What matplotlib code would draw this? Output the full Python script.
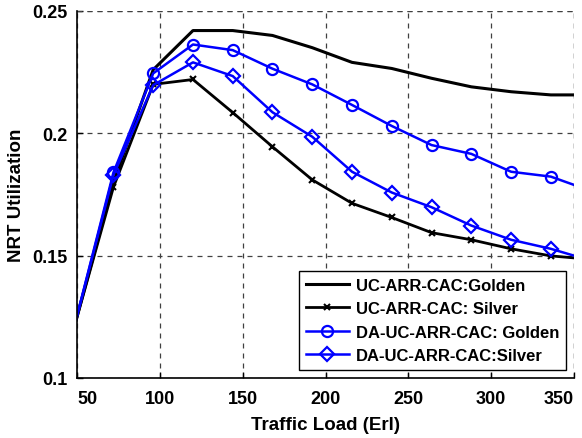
import matplotlib
matplotlib.use('Agg')
import matplotlib.pyplot as plt

plt.rcParams['font.family'] = ['Liberation Sans', 'DejaVu Sans']
plt.rcParams['font.weight'] = 'bold'

# data
load = [48, 72, 96, 120, 144, 168, 192, 216, 240, 264, 288, 312, 336, 360]
uc_golden = [0.120, 0.180, 0.226, 0.242, 0.242, 0.240, 0.235, 0.229, 0.2265, 0.2225,
             0.219, 0.217, 0.2157, 0.2157]
uc_silver = [0.120, 0.178, 0.220, 0.222, 0.2085, 0.1945, 0.181, 0.1714, 0.1656, 0.1594,
             0.1565, 0.1528, 0.1499, 0.1485]
da_golden = [0.120, 0.184, 0.2245, 0.2363, 0.234, 0.2264, 0.220, 0.2116, 0.203, 0.1952,
             0.1916, 0.1843, 0.1823, 0.1765]
da_silver = [0.120, 0.183, 0.2197, 0.229, 0.2234, 0.2086, 0.1986, 0.1843, 0.1758, 0.1698,
             0.1623, 0.1565, 0.1528, 0.148]

x_ticks = [50, 100, 150, 200, 250, 300, 350]
y_ticks = [0.1, 0.15, 0.2, 0.25]
y_tick_labels = ['0.1', '0.15', '0.2', '0.25']

fig = plt.figure(figsize=(5.82, 4.39), dpi=100)
ax = fig.add_axes([0.1323, 0.1367, 0.854, 0.836])

mk = slice(1, 13)  # first/last points fall outside the axis
ax.plot(load, uc_golden, color='black', linewidth=2.2, label='UC-ARR-CAC:Golden')
ax.plot(load, uc_silver, color='black', linewidth=2.0, marker='x', markersize=4,
        markeredgewidth=1.5, markevery=mk, label='UC-ARR-CAC: Silver')
ax.plot(load, da_golden, color='#0000ff', linewidth=1.8, marker='o', markersize=8,
        markerfacecolor='none', markeredgewidth=1.6, markevery=mk,
        label='DA-UC-ARR-CAC: Golden')
ax.plot(load, da_silver, color='#0000ff', linewidth=1.8, marker='D', markersize=7,
        markerfacecolor='none', markeredgewidth=1.6, markevery=mk,
        label='DA-UC-ARR-CAC:Silver')

ax.set_xlim(50, 350)
ax.set_ylim(0.1, 0.25)
ax.set_xticks(x_ticks)
ax.set_yticks(y_ticks)
ax.set_yticklabels(y_tick_labels)
ax.tick_params(direction='in', labelsize=13, length=4, width=1)
ax.tick_params(axis='x', pad=9)
ax.tick_params(axis='y', pad=7)
xlabels = ax.get_xticklabels()
for lab in xlabels + ax.get_yticklabels():
    lab.set_fontweight('bold')
# end labels kept inside the figure, as in the original
xlabels[0].set_horizontalalignment('left')
xlabels[-1].set_horizontalalignment('right')

ax.spines['top'].set_visible(False)
ax.spines['right'].set_visible(False)
ax.spines['left'].set_linewidth(1.2)
ax.spines['bottom'].set_linewidth(1.2)

ax.grid(True, color='0.25', linestyle=(0, (4, 4)), linewidth=0.9)
# outer dashed frame like the grid
ax.axhline(0.25, color='0.25', linestyle=(0, (4, 4)), linewidth=0.9)
ax.axvline(350, color='0.25', linestyle=(0, (4, 4)), linewidth=0.9)

ax.set_xlabel('Traffic Load (Erl)', fontsize=13.5, fontweight='bold', labelpad=6)
ax.set_ylabel('NRT Utilization', fontsize=13.5, fontweight='bold', labelpad=5)

leg = ax.legend(loc='lower right', fontsize=12, frameon=True, fancybox=False,
                edgecolor='black', framealpha=1, handlelength=2.6, borderaxespad=0.5,
                labelspacing=0.5, handletextpad=0.4, borderpad=0.4)
leg.get_frame().set_linewidth(1.0)
for t in leg.get_texts():
    t.set_fontweight('bold')

plt.savefig('out.png', dpi=100)
